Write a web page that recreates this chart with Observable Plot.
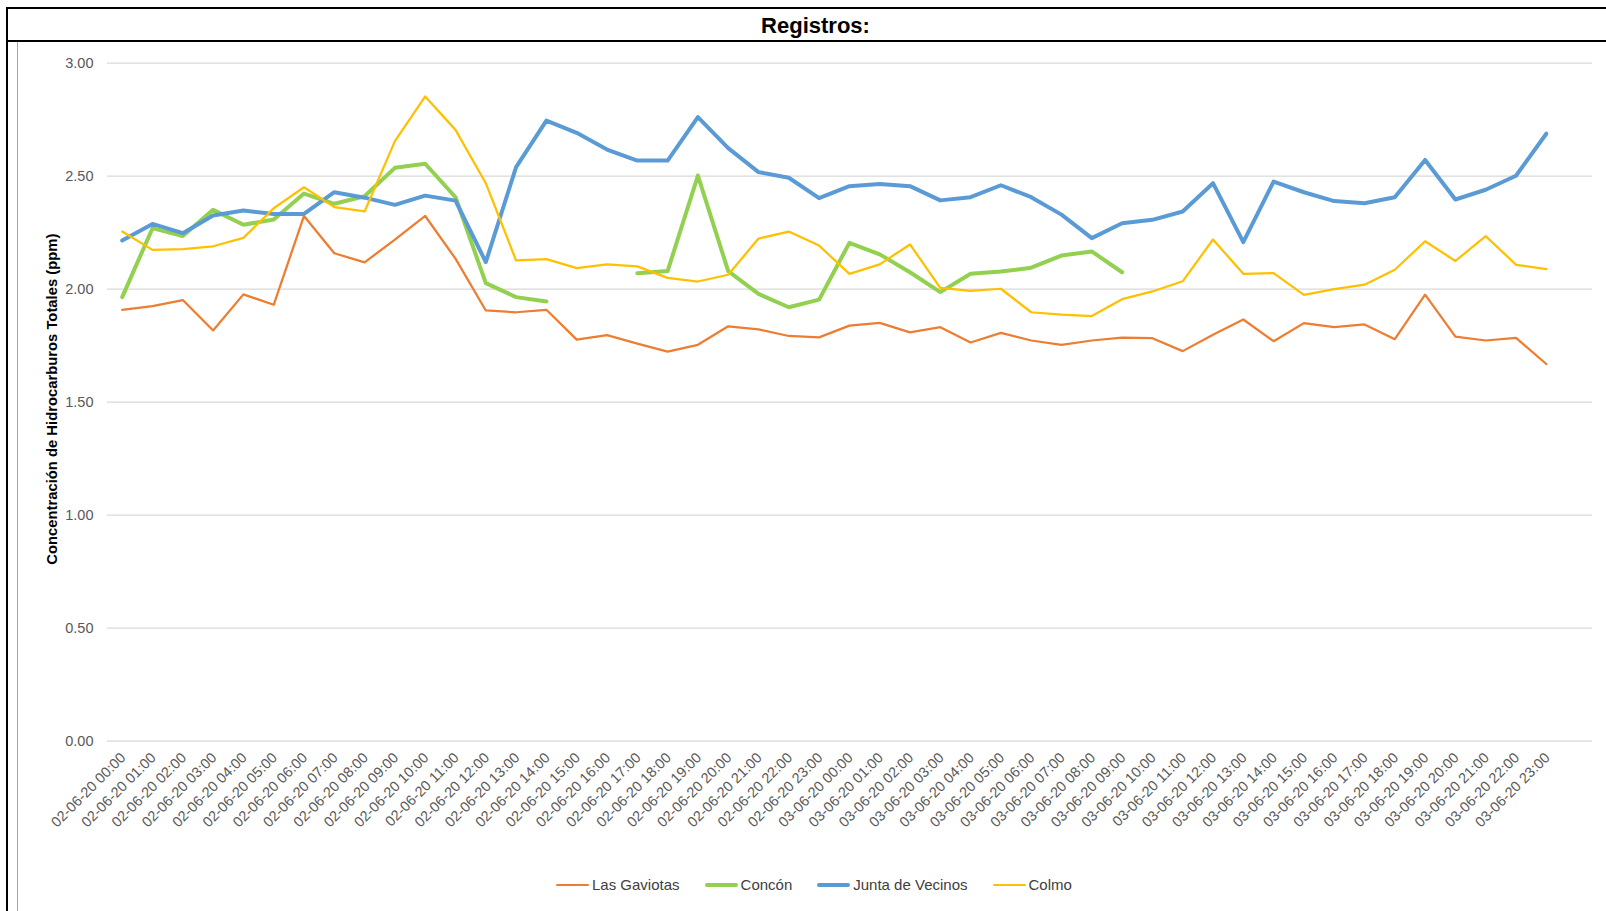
<!DOCTYPE html>
<html>
<head>
<meta charset="utf-8">
<script src="https://cdn.jsdelivr.net/npm/d3@7"></script>
<script src="https://cdn.jsdelivr.net/npm/@observablehq/plot@0.6"></script>
<style>
html,body{margin:0;padding:0;background:#fff;}
body{width:1606px;height:911px;position:relative;overflow:hidden;font-family:"Liberation Sans",Arial,sans-serif;}
#chart{position:absolute;left:0;top:42px;}
#topline{position:absolute;left:6px;top:7px;width:1600px;height:2px;background:#000;}
#leftline{position:absolute;left:6px;top:7px;width:2px;height:904px;background:#000;}
#bandline{position:absolute;left:6px;top:40px;width:1600px;height:2px;background:#000;}
#innerline{position:absolute;left:17px;top:42px;width:1px;height:869px;background:#a6a6a6;}
#title{position:absolute;left:0;width:1631px;top:12px;line-height:28px;text-align:center;font-weight:bold;font-size:22px;color:#000;}
#legend{position:absolute;left:556px;top:875px;height:20px;display:flex;align-items:center;font-size:15px;color:#404040;white-space:nowrap;}
.item{display:flex;align-items:center;margin-right:25px;line-height:20px;}
.sw{width:33px;margin-right:3px;border-radius:2px;}
</style>
</head>
<body>
<div id="chart"></div>
<div id="topline"></div>
<div id="leftline"></div>
<div id="bandline"></div>
<div id="innerline"></div>
<div id="title">Registros:</div>
<div id="legend"></div>
<script>
// ---- data ----
const days = ["02-06-20", "03-06-20"];
const hours = ["00:00","01:00","02:00","03:00","04:00","05:00","06:00","07:00","08:00","09:00","10:00","11:00",
               "12:00","13:00","14:00","15:00","16:00","17:00","18:00","19:00","20:00","21:00","22:00","23:00"];
const labels = days.flatMap(d => hours.map(h => `${d} ${h}`));

const yTicks = [0, 0.5, 1, 1.5, 2, 2.5, 3];
const yTitle = "Concentración de Hidrocarburos Totales (ppm)";

const seriesNames = ["Las Gaviotas", "Concón", "Junta de Vecinos", "Colmo"];
const seriesColors = ["#ED7D31", "#92D050", "#5B9BD5", "#FFC000"];
const seriesWidths = [2.25, 4, 4, 2.25];

const lasGaviotas = [1.909, 1.925, 1.952, 1.817, 1.977, 1.931, 2.324, 2.159, 2.119, 2.219, 2.324, 2.135, 1.906, 1.898, 1.909,
  1.777, 1.797, 1.759, 1.724, 1.754, 1.836, 1.822, 1.793, 1.787, 1.839, 1.851, 1.809, 1.832, 1.764, 1.807, 1.773, 1.754,
  1.773, 1.786, 1.783, 1.726, 1.798, 1.866, 1.770, 1.850, 1.832, 1.844, 1.779, 1.976, 1.790, 1.773, 1.785, 1.669];

const concon = [1.965, 2.270, 2.235, 2.351, 2.285, 2.308, 2.423, 2.378, 2.411, 2.537, 2.555, 2.407, 2.027, 1.965, 1.946,
  null, null,
  2.071, 2.080, 2.503, 2.080, 1.979, 1.920, 1.954, 2.205, 2.154, 2.075, 1.987, 2.068, 2.078, 2.095, 2.149, 2.167, 2.075,
  null, null, null, null, null, null, null, null, null, null, null, null, null, null];

const juntaVecinos = [2.215, 2.289, 2.248, 2.326, 2.348, 2.333, 2.333, 2.429, 2.405, 2.373, 2.414, 2.392, 2.120, 2.540, 2.746,
  2.692, 2.618, 2.569, 2.569, 2.761, 2.624, 2.518, 2.493, 2.403, 2.456, 2.466, 2.456, 2.393, 2.407, 2.460, 2.407, 2.330,
  2.226, 2.292, 2.307, 2.344, 2.469, 2.208, 2.476, 2.429, 2.390, 2.380, 2.407, 2.572, 2.397, 2.440, 2.502, 2.688];

const colmo = [2.255, 2.174, 2.177, 2.190, 2.227, 2.358, 2.451, 2.363, 2.344, 2.655, 2.853, 2.705, 2.469, 2.127, 2.133,
  2.093, 2.110, 2.101, 2.050, 2.034, 2.064, 2.224, 2.255, 2.193, 2.068, 2.110, 2.198, 2.006, 1.993, 2.002, 1.898, 1.887,
  1.881, 1.956, 1.990, 2.035, 2.220, 2.068, 2.071, 1.975, 2.000, 2.020, 2.086, 2.212, 2.125, 2.235, 2.108, 2.089];

const seriesValues = [lasGaviotas, concon, juntaVecinos, colmo];

// ---- chart ----
const lineMarks = seriesValues.map((vals, s) =>
  Plot.line(labels.map((l, i) => ({label: l, value: vals[i]})), {
    x: "label", y: "value",
    stroke: seriesColors[s], strokeWidth: seriesWidths[s],
    strokeLinejoin: "round", strokeLinecap: "round"
  })
);

const chart = Plot.plot({
  width: 1606,
  height: 828,
  marginLeft: 107,
  marginRight: 14,
  marginTop: 20.7,
  marginBottom: 129.3,
  style: {background: "none", fontFamily: '"Liberation Sans", Arial, sans-serif', overflow: "visible"},
  x: {type: "point", domain: labels, range: [121.7, 1545.8], padding: 0, round: false, axis: null},
  y: {domain: [0, 3], axis: null},
  marks: [
    Plot.ruleY(yTicks, {stroke: "#d9d9d9", strokeWidth: 1.3}),
    Plot.axisY(yTicks, {tickFormat: d => d.toFixed(2), tickSize: 0, tickPadding: 14, fontSize: 14.5, fill: "#595959", label: null}),
    Plot.text(labels, {x: d => d, frameAnchor: "bottom", rotate: -45, textAnchor: "end", lineAnchor: "middle",
                       dx: 1, dy: 14, fontSize: 14.5, fill: "#595959"}),
    Plot.text([yTitle], {text: d => d, frameAnchor: "left", textAnchor: "middle", lineAnchor: "middle", rotate: -90,
                         dx: -55.3, dy: -3, fontWeight: "bold", fontSize: 14.8, fill: "#000"}),
    ...lineMarks
  ]
});
document.getElementById("chart").appendChild(chart);

// ---- legend ----
const legend = document.getElementById("legend");
seriesNames.forEach((name, s) => {
  const item = document.createElement("div");
  item.className = "item";
  const sw = document.createElement("span");
  sw.className = "sw";
  sw.style.background = seriesColors[s];
  sw.style.height = (s === 1 || s === 2 ? 4 : 2.5) + "px";
  const t = document.createElement("span");
  t.textContent = name;
  item.appendChild(sw);
  item.appendChild(t);
  legend.appendChild(item);
});
</script>
</body>
</html>
